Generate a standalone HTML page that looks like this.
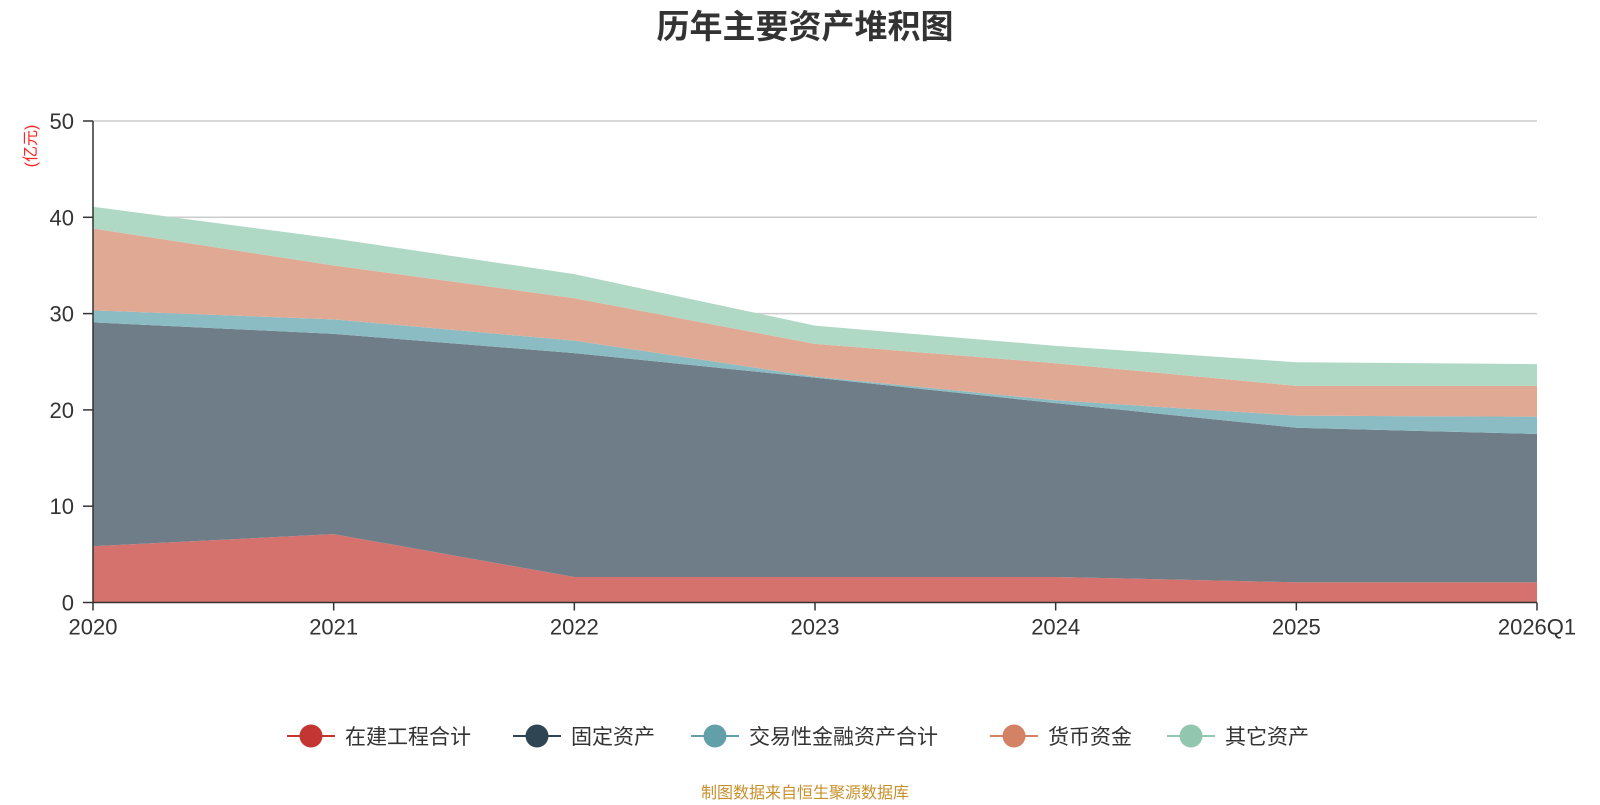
<!DOCTYPE html>
<html><head><meta charset="utf-8">
<style>
body{margin:0;background:#fff;font-family:"Liberation Sans","Noto Sans CJK SC",sans-serif;}
svg text{font-family:"Liberation Sans","Noto Sans CJK SC",sans-serif;}
</style></head>
<body>
<svg id="chart" width="1600" height="800" xmlns="http://www.w3.org/2000/svg">
<text x="805" y="38" text-anchor="middle" font-size="33" font-weight="bold" fill="#333">历年主要资产堆积图</text>
<text transform="translate(36,146) rotate(-90)" text-anchor="middle" font-size="16" fill="#f22">(亿元)</text>
<g id="grid"></g><g id="areas"></g><g id="axes"></g><g id="legend"></g>
<text x="805" y="798" text-anchor="middle" font-size="16" fill="#c8902a">制图数据来自恒生聚源数据库</text>
</svg>
<script>
const categories=["2020","2021","2022","2023","2024","2025","2026Q1"];
const seriesNames=["在建工程合计","固定资产","交易性金融资产合计","货币资金","其它资产"];
const construction=[5.84,7.1,2.65,2.65,2.65,2.1,2.1];
const fixedAssets=[23.25,20.8,23.25,20.7,18.05,16.05,15.4];
const tradingAssets=[1.25,1.5,1.3,0.1,0.3,1.25,1.8];
const cash=[8.5,5.6,4.4,3.4,3.85,3.1,3.2];
const otherAssets=[2.25,2.8,2.5,1.9,1.8,2.45,2.25];
const yTicks=[0,10,20,30,40,50];
const colors=["#c23531","#2f4554","#61a0a8","#d48265","#91c7ae"];
const fills=["#d5726e","#6f7d88","#8bbcc3","#e0a994","#b0d9c5"];
const NS="http://www.w3.org/2000/svg";
const X0=93,X1=1537,Y0=602.5,Y1=121;
const xs=i=>X0+(X1-X0)*i/(categories.length-1);
const ys=v=>Y0-(Y0-Y1)*v/50;
function mk(tag,attrs,parent){const e=document.createElementNS(NS,tag);for(const k in attrs)e.setAttribute(k,attrs[k]);parent.appendChild(e);return e;}
const grid=document.getElementById('grid'),areas=document.getElementById('areas'),axes=document.getElementById('axes'),legend=document.getElementById('legend');
yTicks.forEach(t=>{
 if(t>0){const l=mk('line',{x1:X0,x2:X1,y1:ys(t),y2:ys(t),stroke:'#ccc','stroke-width':1.5},grid);
 
 }
 mk('line',{x1:X0-10,x2:X0,y1:ys(t),y2:ys(t),stroke:'#333','stroke-width':1.5},axes);
 const tx=mk('text',{x:X0-19,y:ys(t)+8,'text-anchor':'end','font-size':22,fill:'#333'},axes);tx.textContent=t;
 
 
});
const data=[construction,fixedAssets,tradingAssets,cash,otherAssets];
let base=categories.map(()=>0);
data.forEach((s,k)=>{
 const top=base.map((b,i)=>b+s[i]);
 let d='M'+categories.map((c,i)=>xs(i)+','+ys(top[i])).join(' L');
 for(let i=categories.length-1;i>=0;i--)d+=' L'+xs(i)+','+ys(base[i]);
 d+='Z';
 const p=mk('path',{d:d,fill:fills[k],stroke:'none'},areas);
 
 
 base=top;
});
mk('line',{x1:X0,x2:X0,y1:Y1,y2:Y0,stroke:'#333','stroke-width':1.5},axes);
mk('line',{x1:X0,x2:X1,y1:Y0,y2:Y0,stroke:'#333','stroke-width':1.5},axes);
categories.forEach((c,i)=>{
 mk('line',{x1:xs(i),x2:xs(i),y1:Y0,y2:Y0+8,stroke:'#333','stroke-width':1.5},axes);
 const tx=mk('text',{x:xs(i),y:Y0+32,'text-anchor':'middle','font-size':22,fill:'#333'},axes);tx.textContent=c;
 
 
});
const lx=[287,513,691,990,1167];
seriesNames.forEach((n,k)=>{
 const g=mk('g',{},legend);
 
 
 mk('line',{x1:lx[k],x2:lx[k]+48,y1:736,y2:736,stroke:colors[k],'stroke-width':2},g);
 mk('circle',{cx:lx[k]+24,cy:736,r:11.5,fill:colors[k]},g);
 const t=mk('text',{x:lx[k]+58,y:744,'font-size':21,fill:'#333'},g);t.textContent=n;
});
</script>
</body></html>
